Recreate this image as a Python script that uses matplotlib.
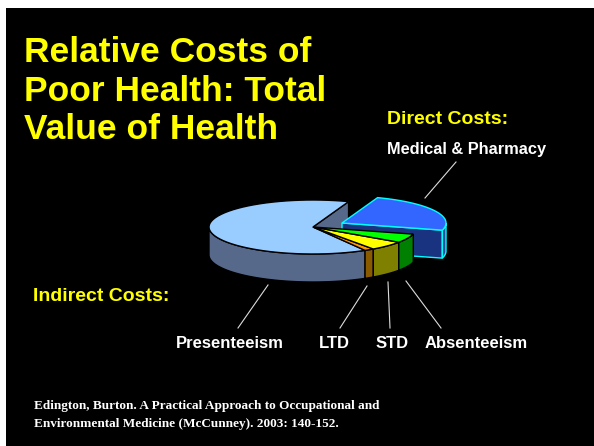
import matplotlib
matplotlib.use("Agg")
import matplotlib.pyplot as plt
import numpy as np

title_lines = ["Relative Costs of", "Poor Health: Total", "Value of Health"]
slice_names = ["Presenteeism", "LTD", "STD", "Absenteeism", "Medical & Pharmacy"]
slice_values = [63.9, 1.5, 5.6, 5.3, 23.7]
top_colors = ["#99ccff", "#ff9900", "#ffff00", "#00ff00", "#3366ff"]
side_colors = ["#56698a", "#8a5a00", "#808000", "#008000", "#1a3380"]
citation = ["Edington, Burton. A Practical Approach to Occupational and",
            "Environmental Medicine (McCunney). 2003: 140-152."]

START = 70
CX, CY = 313, 227
RX, RY = 104, 27
DEPTH = 28
OFFSET = (29, -4)


def rim(a0, a1, cx, cy):
    t = np.radians(np.linspace(a0, a1, 60))
    return cx + RX * np.cos(t), cy - RY * np.sin(t)


def wall(ax, a0, a1, cx, cy, color, edge, z):
    # outer wall, only the part facing us
    lo, hi = max(a0, 180), min(a1, 360)
    if hi <= lo:
        return
    x, y = rim(lo, hi, cx, cy)
    ax.fill(np.r_[x, x[::-1]], np.r_[y, y[::-1] + DEPTH], fc=color, ec=edge, lw=1, zorder=z)


def top(ax, a0, a1, cx, cy, color, edge, z):
    x, y = rim(a0, a1, cx, cy)
    ax.fill(np.r_[cx, x], np.r_[cy, y], fc=color, ec=edge, lw=1, zorder=z)


def cut(ax, a, cx, cy, color, edge, z):
    x, y = rim(a, a, cx, cy)
    ax.fill([cx, x[0], x[0], cx], [cy, y[0], y[0] + DEPTH, cy + DEPTH], fc=color, ec=edge, lw=1, zorder=z)


fig = plt.figure(figsize=(5.94, 4.46), dpi=100, facecolor="white")
ax = fig.add_axes([0, 0, 1, 1])
ax.set_xlim(0, 594)
ax.set_ylim(446, 0)
ax.axis("off")
ax.add_patch(plt.Rectangle((6, 8), 588, 438, fc="black", ec="none", zorder=0))

sweeps = np.array(slice_values) / sum(slice_values) * 360
edges = START + np.r_[0, np.cumsum(sweeps)]

# back part of the pie, then the pulled out slice, then the rest on top
cut(ax, START, CX, CY, side_colors[0], "black", 1)

mx, my = CX + OFFSET[0], CY + OFFSET[1]
a0, a1 = edges[4], edges[5]
cut(ax, a0, mx, my, side_colors[4], "#00ffff", 1.2)
wall(ax, a0, a1, mx, my, "#2a4a9a", "#00ffff", 1.4)
top(ax, a0, a1, mx, my, top_colors[4], "#00ffff", 1.6)

for i in range(4):
    wall(ax, edges[i], edges[i + 1], CX, CY, side_colors[i], "black", 2)
for i in range(4):
    top(ax, edges[i], edges[i + 1], CX, CY, top_colors[i], "black", 3)

# leader lines
for (x0, y0, x1, y1) in [(425, 198, 456, 162), (238, 328, 268, 285), (340, 328, 367, 286),
                         (390, 328, 388, 282), (441, 328, 406, 281)]:
    ax.plot([x0, x1], [y0, y1], color="#dddddd", lw=0.8, zorder=4)

sans = "Liberation Sans"
for line, yy in zip(title_lines, [62, 101, 139]):
    ax.text(24, yy, line, color="#ffff00", fontsize=25.5, fontweight="bold",
            family=sans, va="baseline", ha="left")

ax.text(387, 124, "Direct Costs:", color="#ffff00", fontsize=14, fontweight="bold", family=sans)
ax.text(33, 301, "Indirect Costs:", color="#ffff00", fontsize=14, fontweight="bold", family=sans)
ax.text(387, 154, slice_names[4], color="white", fontsize=11.8, fontweight="bold", family=sans)
for name, xx in zip(slice_names[:4], [176, 319, 376, 425]):
    ax.text(xx, 348, name, color="white", fontsize=12, fontweight="bold", family=sans)

for line, yy in zip(citation, [409, 427]):
    ax.text(34, yy, line, color="white", fontsize=9.5, fontweight="bold", family="Liberation Serif")

fig.savefig("out.png", dpi=100, facecolor="white")
